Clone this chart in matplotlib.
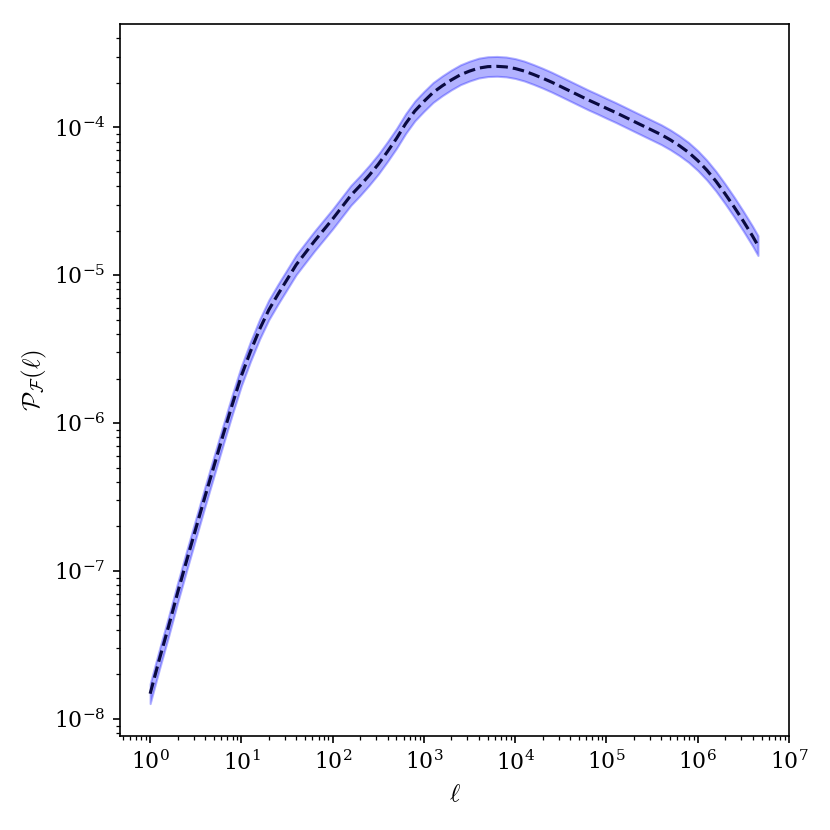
import numpy as np
import matplotlib
matplotlib.use('Agg')
import matplotlib.pyplot as plt

plt.rcParams['mathtext.fontset'] = 'cm'
plt.rcParams['font.family'] = 'serif'
plt.rcParams['font.serif'] = ['DejaVu Serif']

# multipole values
ell = [1, 1.259, 1.585, 1.995, 2.512, 3.162, 3.981, 5.012, 6.310, 7.943,
       10, 12.59, 15.85, 19.95, 25.12, 31.62, 39.81, 50.12, 63.10, 79.43,
       100, 125.9, 158.5, 199.5, 251.2, 316.2, 398.1, 501.2, 631.0, 794.3,
       1000, 1259, 1585, 1995, 2512, 3162, 3981, 5012, 6310, 7943,
       1e4, 12590, 15850, 19950, 25120, 31620, 39810, 50120, 63100, 79430,
       1e5, 125900, 158500, 199500, 251200, 316200, 398100, 501200, 631000, 794300,
       1e6, 1.259e6, 1.585e6, 1.995e6, 2.512e6, 3.162e6, 3.981e6, 4.571e6]

# mean power spectrum
p_mean = [1.479e-8, 2.512e-8, 4.169e-8, 7.079e-8, 1.175e-7, 1.928e-7, 3.162e-7, 5.129e-7, 8.318e-7, 1.334e-6,
          2.089e-6, 3.055e-6, 4.315e-6, 5.821e-6, 7.413e-6, 9.333e-6, 1.175e-5, 1.413e-5, 1.698e-5, 2.018e-5,
          2.399e-5, 2.884e-5, 3.467e-5, 4.027e-5, 4.732e-5, 5.623e-5, 6.839e-5, 8.414e-5, 1.059e-4, 1.288e-4,
          1.496e-4, 1.718e-4, 1.905e-4, 2.089e-4, 2.265e-4, 2.399e-4, 2.512e-4, 2.570e-4, 2.582e-4, 2.559e-4,
          2.495e-4, 2.399e-4, 2.275e-4, 2.148e-4, 2.018e-4, 1.884e-4, 1.758e-4, 1.641e-4, 1.531e-4, 1.436e-4,
          1.343e-4, 1.259e-4, 1.175e-4, 1.096e-4, 1.023e-4, 9.550e-5, 8.913e-5, 8.222e-5, 7.499e-5, 6.761e-5,
          5.957e-5, 5.129e-5, 4.315e-5, 3.548e-5, 2.884e-5, 2.317e-5, 1.841e-5, 1.585e-5]

# band edges
p_hi = [1.726e-8, 2.932e-8, 4.865e-8, 8.261e-8, 1.371e-7, 2.250e-7, 3.690e-7, 5.986e-7, 9.707e-7, 1.557e-6,
        2.438e-6, 3.565e-6, 5.036e-6, 6.793e-6, 8.651e-6, 1.089e-5, 1.371e-5, 1.649e-5, 1.982e-5, 2.355e-5,
        2.800e-5, 3.366e-5, 4.046e-5, 4.700e-5, 5.522e-5, 6.562e-5, 7.981e-5, 9.819e-5, 1.236e-4, 1.503e-4,
        1.746e-4, 2.005e-4, 2.223e-4, 2.438e-4, 2.643e-4, 2.800e-4, 2.932e-4, 2.999e-4, 3.013e-4, 2.986e-4,
        2.912e-4, 2.800e-4, 2.655e-4, 2.507e-4, 2.355e-4, 2.199e-4, 2.052e-4, 1.915e-4, 1.787e-4, 1.676e-4,
        1.567e-4, 1.469e-4, 1.371e-4, 1.279e-4, 1.194e-4, 1.114e-4, 1.040e-4, 9.595e-5, 8.751e-5, 7.890e-5,
        6.952e-5, 5.986e-5, 5.036e-5, 4.141e-5, 3.366e-5, 2.704e-5, 2.148e-5, 1.850e-5]
p_lo = [1.268e-8, 2.153e-8, 3.573e-8, 6.067e-8, 1.007e-7, 1.652e-7, 2.710e-7, 4.396e-7, 7.129e-7, 1.143e-6,
        1.790e-6, 2.618e-6, 3.698e-6, 4.989e-6, 6.353e-6, 7.998e-6, 1.007e-5, 1.211e-5, 1.455e-5, 1.729e-5,
        2.056e-5, 2.472e-5, 2.971e-5, 3.451e-5, 4.055e-5, 4.819e-5, 5.861e-5, 7.211e-5, 9.076e-5, 1.104e-4,
        1.282e-4, 1.472e-4, 1.633e-4, 1.790e-4, 1.941e-4, 2.056e-4, 2.153e-4, 2.202e-4, 2.213e-4, 2.193e-4,
        2.138e-4, 2.056e-4, 1.950e-4, 1.841e-4, 1.729e-4, 1.615e-4, 1.507e-4, 1.406e-4, 1.312e-4, 1.231e-4,
        1.151e-4, 1.079e-4, 1.007e-4, 9.393e-5, 8.767e-5, 8.184e-5, 7.638e-5, 7.046e-5, 6.427e-5, 5.794e-5,
        5.105e-5, 4.396e-5, 3.698e-5, 3.041e-5, 2.472e-5, 1.986e-5, 1.578e-5, 1.358e-5]

fig, ax = plt.subplots(figsize=(830/150, 830/150), dpi=150)
fig.subplots_adjust(left=0.1446, right=0.9506, bottom=0.1133, top=0.971)

ax.fill_between(ell, p_lo, p_hi, color='blue', alpha=0.3)
ax.plot(ell, p_mean, color='#0a0a40', linestyle='--', linewidth=1.5)

ax.set_xscale('log')
ax.set_yscale('log')
ax.set_xlim(10**-0.33, 1e7)
ax.set_xticks([1, 10, 100, 1e3, 1e4, 1e5, 1e6, 1e7])
ax.tick_params(labelsize=10.5)
ax.set_xlabel(r'$\ell$', fontsize=12)
ax.set_ylabel(r'$\mathcal{P}_{\mathcal{F}}(\ell)$', fontsize=12, labelpad=2)

fig.savefig('out.png', dpi=150)
